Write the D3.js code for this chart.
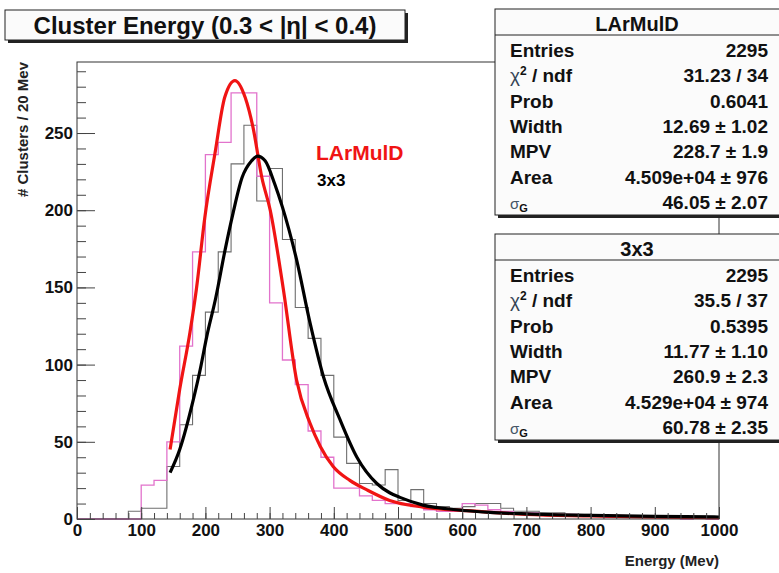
<!DOCTYPE html>
<html>
<head>
<meta charset="utf-8">
<script src="https://cdn.jsdelivr.net/npm/d3@7"></script>
<style>
  body { margin: 0; background: #fff; }
  svg { display: block; font-family: "Liberation Sans", Arial, sans-serif; font-weight: bold; }
</style>
</head>
<body>
<svg id="chart"></svg>
<script>
// histogram bins: 20 MeV wide, 0 .. 1000 MeV
const binWidth = 20;
const binStarts = d3.range(0, 1000, binWidth);

// counts per bin
const larCounts = [0, 0, 0, 0, 0,
    22, 25, 50, 112, 173, 236, 244, 276, 276, 222,
    140, 103, 87, 57, 40, 20, 20, 15, 12, 10,
    10, 8, 6, 5, 5, 10, 9, 6, 5, 4,
    4, 3, 3, 3, 2, 2, 1, 2, 1, 1,
    1, 1, 0, 1, 0];
const cubeCounts = [0, 0, 0, 0,
    5, 7, 7, 34, 61, 93, 134, 173, 230, 255,
    206, 227, 181, 137, 117, 93, 53, 36, 23, 22,
    32, 12, 19, 10, 8, 7, 8, 10, 10, 7,
    5, 5, 4, 4, 3, 3, 2, 2, 1, 2,
    1, 1, 1, 1, 1, 1];

// fitted curves, points
const larFitE = [145, 160, 176, 186, 199, 215, 230, 246, 262, 274, 288, 301, 321, 342, 363, 379, 399, 425, 451, 487, 539, 607, 700, 800, 900, 1000];
const larFitY = [45, 84, 121, 149, 195, 237, 273, 284, 273, 254, 221, 200, 150, 90, 62, 47, 34, 25, 19, 12, 7.7, 5.4, 3, 2, 1.2, 0.8];
const cubeFitE = [145, 160, 181, 192, 202, 216, 231, 243, 257, 272, 281, 293, 308, 320, 342, 363, 384, 410, 436, 467, 487, 503, 539, 591, 643, 700, 800, 900, 1000];
const cubeFitY = [30, 45, 77, 97, 118, 143, 175, 198, 221, 232, 235, 232, 217, 202, 168, 127, 92, 64, 40, 23, 17, 14, 9, 6, 4.3, 3.3, 2.3, 1.7, 1.3];

const xTicks = [0, 100, 200, 300, 400, 500, 600, 700, 800, 900, 1000];
const yTicks = [0, 50, 100, 150, 200, 250];

// stats boxes
const statLabels = ["Entries", "chi2", "Prob", "Width", "MPV", "Area", "sigmaG"];
const larStats = ["2295", "31.23 / 34", "0.6041", "12.69 \u00b1 1.02", "228.7 \u00b1 1.9", "4.509e+04 \u00b1 976", "46.05 \u00b1 2.07"];
const cubeStats = ["2295", "35.5 / 37", "0.5395", "11.77 \u00b1 1.10", "260.9 \u00b1 2.3", "4.529e+04 \u00b1 974", "60.78 \u00b1 2.35"];

const W = 779, H = 573;
const svg = d3.select("#chart").attr("width", W).attr("height", H);

let frame = {left: 77, right: 719, top: 62, bottom: 519};

let x = d3.scaleLinear().domain([0, 1000]).range([frame.left, frame.right]);
let y = d3.scaleLinear().domain([0, 296]).range([frame.bottom, frame.top]);

// histogram outline as a step path over all bins
function stepPath(counts) {
    let p = d3.path();
    p.moveTo(x(0), y(0));
    counts.forEach((c, i) => {
        p.lineTo(x(binStarts[i]), y(c));
        p.lineTo(x(binStarts[i] + binWidth), y(c));
    });
    p.lineTo(x(1000), y(0));
    return p.toString();
}

svg.append("path")
    .attr("d", stepPath(cubeCounts))
    .attr("fill", "none")
    .attr("stroke", "#6f6f6f")
    .attr("stroke-width", 1.1);

svg.append("path")
    .attr("d", stepPath(larCounts))
    .attr("fill", "none")
    .attr("stroke", "#e273cc")
    .attr("stroke-width", 1.3);

// fit curves
let fitLine = d3.line()
    .x(d => x(d[0]))
    .y(d => y(d[1]))
    .curve(d3.curveMonotoneX);

svg.append("path")
    .attr("d", fitLine(larFitE.map((e, i) => [e, larFitY[i]])))
    .attr("fill", "none")
    .attr("stroke", "#f01414")
    .attr("stroke-width", 3.2);

svg.append("path")
    .attr("d", fitLine(cubeFitE.map((e, i) => [e, cubeFitY[i]])))
    .attr("fill", "none")
    .attr("stroke", "#000")
    .attr("stroke-width", 3.2);

// frame
svg.append("rect")
    .attr("x", frame.left).attr("y", frame.top)
    .attr("width", frame.right - frame.left)
    .attr("height", frame.bottom - frame.top)
    .attr("fill", "none")
    .attr("stroke", "#333")
    .attr("stroke-width", 1);

// x axis: minor ticks every 20, major every 100, ticks pointing inward
svg.append("g")
    .attr("transform", `translate(0,${frame.bottom})`)
    .call(d3.axisBottom(x).tickValues(binStarts.concat([1000])).tickSize(-6).tickFormat(""))
    .call(g => g.select(".domain").remove());

svg.append("g")
    .attr("transform", `translate(0,${frame.bottom})`)
    .call(d3.axisBottom(x).tickValues(xTicks).tickSize(-12).tickPadding(5).tickFormat(d3.format("d")))
    .call(g => g.select(".domain").remove())
    .call(g => g.selectAll("text")
        .style("font-size", "17px")
        .style("font-weight", "bold")
        .style("font-family", "'Liberation Sans', Arial, sans-serif")
        .attr("fill", "#111"));

// y axis: minor every 10, major every 50
svg.append("g")
    .attr("transform", `translate(${frame.left},0)`)
    .call(d3.axisLeft(y).tickValues(d3.range(0, 296, 10)).tickSize(-9).tickFormat(""))
    .call(g => g.select(".domain").remove());

svg.append("g")
    .attr("transform", `translate(${frame.left},0)`)
    .call(d3.axisLeft(y).tickValues(yTicks).tickSize(-18).tickPadding(4))
    .call(g => g.select(".domain").remove())
    .call(g => g.selectAll("text")
        .style("font-size", "17px")
        .style("font-weight", "bold")
        .style("font-family", "'Liberation Sans', Arial, sans-serif")
        .attr("fill", "#111"));

svg.selectAll(".tick line").attr("stroke", "#444");

// axis titles
svg.append("text")
    .attr("x", frame.right)
    .attr("y", 566)
    .style("text-anchor", "end")
    .style("font-size", "15px")
    .attr("fill", "#222")
    .text("Energy (Mev)");

svg.append("text")
    .attr("transform", `translate(28,${frame.top}) rotate(-90)`)
    .style("text-anchor", "end")
    .style("font-size", "15px")
    .attr("fill", "#222")
    .text("# Clusters / 20 Mev");

// legend text
svg.append("text")
    .attr("x", 316).attr("y", 160)
    .style("font-size", "21px")
    .attr("fill", "#f01414")
    .text("LArMulD");

svg.append("text")
    .attr("x", 317).attr("y", 186)
    .style("font-size", "17px")
    .attr("fill", "#000")
    .text("3x3");

// box with a ROOT style shadow
function shadowBox(x0, y0, w, h) {
    svg.append("rect")
        .attr("x", x0 + 3).attr("y", y0 + 3)
        .attr("width", w).attr("height", h)
        .attr("fill", "#222");
    svg.append("rect")
        .attr("x", x0).attr("y", y0)
        .attr("width", w).attr("height", h)
        .attr("fill", "#fbfbfb")
        .attr("stroke", "#222")
        .attr("stroke-width", 1);
}

// title
shadowBox(5, 10, 400, 30);
svg.append("text")
    .attr("x", 205).attr("y", 34)
    .style("text-anchor", "middle")
    .style("font-size", "24px")
    .attr("fill", "#111")
    .text("Cluster Energy (0.3 < |\u03b7| < 0.4)");

// stats boxes
function statsBox(top, name, values) {
    shadowBox(495, top, 300, 206);
    svg.append("line")
        .attr("x1", 495).attr("x2", 779)
        .attr("y1", top + 26).attr("y2", top + 26)
        .attr("stroke", "#222");
    svg.append("text")
        .attr("x", 637).attr("y", top + 22)
        .style("text-anchor", "middle")
        .style("font-size", "20px")
        .attr("fill", "#111")
        .text(name);

    statLabels.forEach((lab, i) => {
        let yy = top + 48 + i * 25.3;
        let t = svg.append("text")
            .attr("x", 510).attr("y", yy)
            .style("font-size", "19px")
            .attr("fill", "#111");
        if (lab === "chi2") {
            t.append("tspan").style("font-weight", "normal").attr("fill", "#345").text("\u03c7");
            t.append("tspan").attr("dy", -7).style("font-size", "12px").text("2");
            t.append("tspan").attr("dy", 7).text(" / ndf");
        } else if (lab === "sigmaG") {
            t.append("tspan").style("font-weight", "normal").style("font-size", "15px").attr("fill", "#456").text("\u03c3");
            t.append("tspan").attr("dy", 3).style("font-size", "11px").text("G");
        } else {
            t.text(lab);
        }
        svg.append("text")
            .attr("x", 768).attr("y", yy)
            .style("text-anchor", "end")
            .style("font-size", "19px")
            .attr("fill", "#111")
            .text(values[i]);
    });
}

statsBox(9, "LArMulD", larStats);
statsBox(234, "3x3", cubeStats);
</script>
</body>
</html>
